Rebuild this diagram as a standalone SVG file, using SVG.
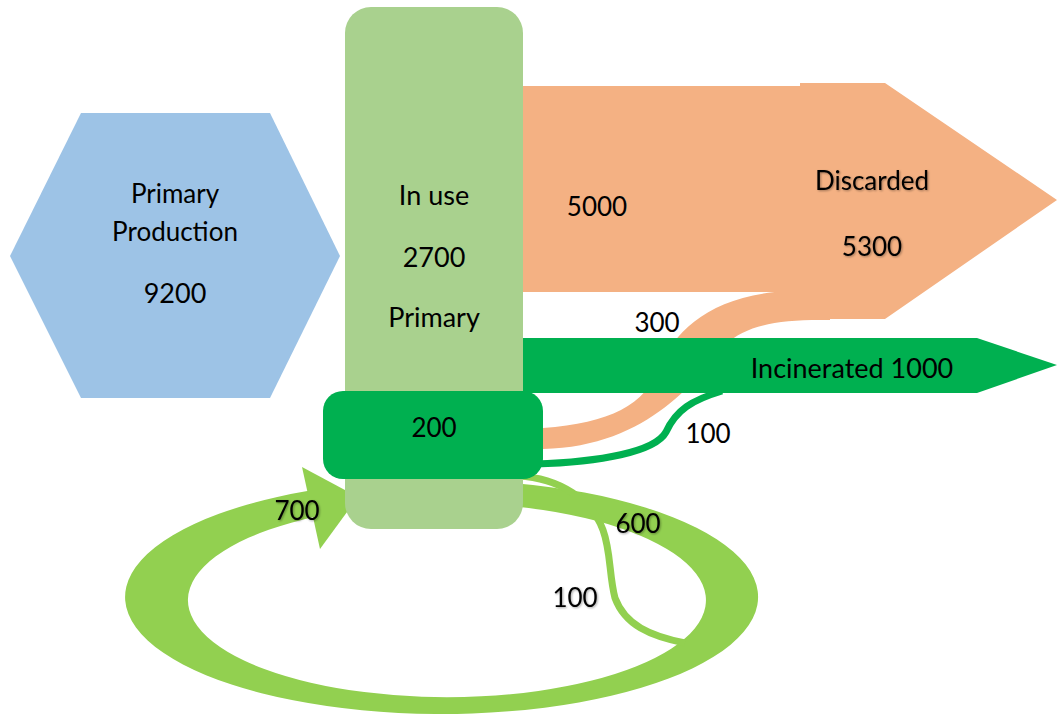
<svg xmlns="http://www.w3.org/2000/svg" width="1057" height="716" viewBox="0 0 1057 716">
  <defs>
    <style>
      .lbl { font-family: Lato, "Open Sans", "Liberation Sans", sans-serif; font-size: 26px; fill: #000; text-anchor: middle; }
      .big { font-size: 27px; }
      .sh { filter: url(#shadow); }
      .loop { fill: #92D050; }
      .thinloop { fill: none; stroke: #92D050; stroke-width: 7; }
      .orange { fill: #F4B183; }
      .dgreen { fill: #00B050; }
    </style>
    <filter id="shadow" x="-20%" y="-20%" width="140%" height="140%">
      <feDropShadow dx="1" dy="1" stdDeviation="0.8" flood-color="#000" flood-opacity="0.35"/>
    </filter>
  </defs>
  <rect width="1057" height="716" fill="#fff"/>

  <g id="connectors">
    <!-- recycling loop 700 / 600 -->
    <path id="loop-700" class="loop" d="M 310 490.6 A 316.5 117 0 1 0 515 483.2 L 515 506.6 A 259 97 0 1 1 316 516.5 Z"/>
    <polygon id="loop-arrowhead" class="loop" points="302,467 358,497 320,549"/>
    <path id="loop-100" class="thinloop" d="M 518 476 C 560 478, 592 500, 603 530 C 611 552, 609 575, 615 598 C 625 625, 650 636, 685 643"/>
    <!-- 300 from stock to discarded -->
    <path id="flow-300" class="orange" d="M 530 428 L 543 428 C 610 423, 645 405, 660 367 C 675 330, 712 295, 788 291 L 830 291 L 830 320 L 820 320 C 775 320, 745 326, 725 345 C 700 375, 650 447, 543 449 L 530 449 Z"/>
    <!-- 100 from stock to incinerated -->
    <path id="flow-100-incinerated" fill="none" stroke="#00B050" stroke-width="7" d="M 535 464 C 600 462, 655 452, 666 432 C 676 410, 692 400, 722 391"/>
  </g>

  <g id="discarded">
    <polygon class="orange" points="523,86 800,86 800,83 885,83 1057,200 885,319 820,319 820,292 523,292"/>
  </g>

  <g id="incinerated">
    <polygon class="dgreen" points="523,338 977,338 1057,365 977,393 523,393"/>
  </g>

  <g id="in-use">
    <rect x="345" y="7" width="178" height="522" rx="26" fill="#A9D18E"/>
  </g>

  <g id="stock-200">
    <rect x="323" y="391" width="220" height="88" rx="20" class="dgreen"/>
  </g>

  <g id="primary-production">
    <polygon points="10,256 81,113 270,113 340,256 270,398 81,398" fill="#9DC3E6"/>
  </g>

  <g id="labels">
    <text class="lbl" x="175" y="203">Primary</text>
    <text class="lbl" x="175" y="241">Production</text>
    <text class="lbl big" x="175" y="303">9200</text>

    <text class="lbl big" x="434" y="205">In use</text>
    <text class="lbl big" x="434" y="267">2700</text>
    <text class="lbl big" x="434" y="327">Primary</text>

    <text class="lbl" x="597" y="216">5000</text>
    <text class="lbl sh" x="872" y="190">Discarded</text>
    <text class="lbl sh" x="872" y="256">5300</text>

    <text class="lbl" x="657" y="332">300</text>
    <text class="lbl big" x="852" y="378">Incinerated 1000</text>
    <text class="lbl" x="434" y="437">200</text>
    <text class="lbl" x="708" y="443">100</text>

    <text class="lbl sh" x="297" y="520">700</text>
    <text class="lbl sh" x="638" y="533">600</text>
    <text class="lbl sh" x="575" y="607">100</text>
  </g>
</svg>
